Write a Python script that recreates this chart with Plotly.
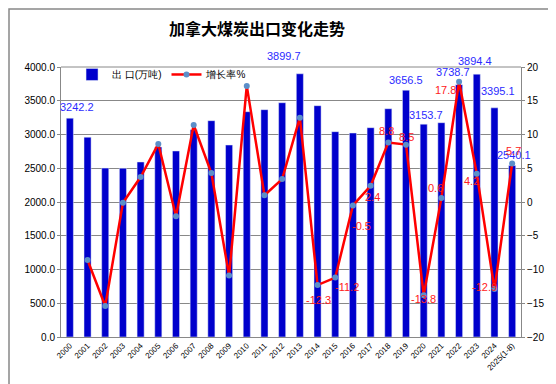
import plotly.graph_objects as go

years = ["2000","2001","2002","2003","2004","2005","2006","2007","2008","2009",
         "2010","2011","2012","2013","2014","2015","2016","2017","2018","2019",
         "2020","2021","2022","2023","2024","2025(1-8)"]
exports = [3242.2, 2960, 2502, 2500, 2593, 2815, 2756, 3071, 3205, 2844,
           3338, 3368, 3471, 3899.7, 3427, 3042, 3022, 3101, 3382, 3656.5,
           3153.7, 3175, 3738.7, 3894.4, 3395.1, 2540.1]
growth = [None, -8.6, -15.4, -0.1, 3.7, 8.6, -2.1, 11.4, 4.3, -10.9,
          17.2, 1.0, 3.4, 12.5, -12.3, -11.2, -0.5, 2.4, 8.8, 8.5,
          -13.8, 0.6, 17.8, 4.2, -12.9, 5.7]

# which values get printed labels, with pixel offsets of the label
bar_labels = {"2000": (7, 11), "2013": (-16, 18), "2019": (0, 10), "2020": (2, 9),
              "2022": (-6, 13), "2023": (-2, 13), "2024": (4, 17), "2025(1-8)": (2, 11)}
rate_labels = {"2014": (1, -15), "2015": (12, -9), "2016": (9, -21), "2017": (2, -11),
               "2018": (-2, 12), "2019": (0, 8), "2020": (0, -4), "2021": (-6, 10),
               "2022": (-14, -8), "2023": (-5, -7), "2024": (-10, 2), "2025(1-8)": (1, 13)}

fig = go.Figure()
fig.add_trace(go.Bar(x=years, y=exports, name="出 口(万吨)", marker_color="#0000CC",
                     yaxis="y"))
fig.add_trace(go.Scatter(x=years, y=growth, name="增长率%", mode="lines+markers",
                         line=dict(color="#FF0000", width=2.5),
                         marker=dict(color="#5B8FC9", size=6), yaxis="y2"))

ann = []
for i, yr in enumerate(years):
    if yr in bar_labels:
        dx, dy = bar_labels[yr]
        ann.append(dict(x=i, y=exports[i], xref="x", yref="y", text=f"{exports[i]:.1f}",
                        showarrow=False, xshift=dx, yshift=dy, yanchor="middle",
                        font=dict(color="#2B2BFF", size=11, family="Liberation Sans")))
    if yr in rate_labels:
        dx, dy = rate_labels[yr]
        ann.append(dict(x=i, y=growth[i], xref="x", yref="y2", text=f"{growth[i]:.1f}",
                        showarrow=False, xshift=dx, yshift=dy, yanchor="middle",
                        font=dict(color="#FF2020", size=11, family="Liberation Sans")))

fig.update_layout(
    width=556, height=384,
    margin=dict(l=53, r=43, t=59, b=55),
    paper_bgcolor="white", plot_bgcolor="white",
    title=dict(text="<b>加拿大煤炭出口变化走势</b>", x=249 / 556, xanchor="center", y=0.945,
               yanchor="middle", font=dict(size=16, family="Noto Sans CJK SC", color="black")),
    bargap=0.6,
    font=dict(family="Liberation Sans", size=10, color="black"),
    xaxis=dict(type="category", range=[-0.5, len(years) - 0.5], tickangle=-45,
               tickfont=dict(size=8), showline=True, linecolor="#888888", ticks="",
               showgrid=False),
    yaxis=dict(range=[0, 4000], dtick=500, tickformat=".1f", showgrid=True,
               gridcolor="#888888", gridwidth=1, showline=True, linecolor="#888888",
               zeroline=False, ticks="outside", ticklen=3, tickcolor="#888888"),
    yaxis2=dict(range=[-20, 20], dtick=5, overlaying="y", side="right", showgrid=False,
                showline=True, linecolor="#888888", zeroline=False,
                ticks="outside", ticklen=3, tickcolor="#888888"),
    legend=dict(orientation="h", x=0.024, y=1.026, xanchor="left", yanchor="top",
                bgcolor="rgba(0,0,0,0)", font=dict(size=10)),
    showlegend=True,
    annotations=ann,
    shapes=[dict(type="rect", xref="paper", yref="paper",
                 x0=(1 - 53) / 460, x1=(554 - 53) / 460,
                 y0=1 - (382 - 59) / 270, y1=1 - (1 - 59) / 270,
                 line=dict(color="#888888", width=1.5)),
            dict(type="line", xref="paper", yref="paper", x0=0, x1=1, y0=1, y1=1,
                 line=dict(color="#888888", width=1))],
)

fig.write_html("out.html")
